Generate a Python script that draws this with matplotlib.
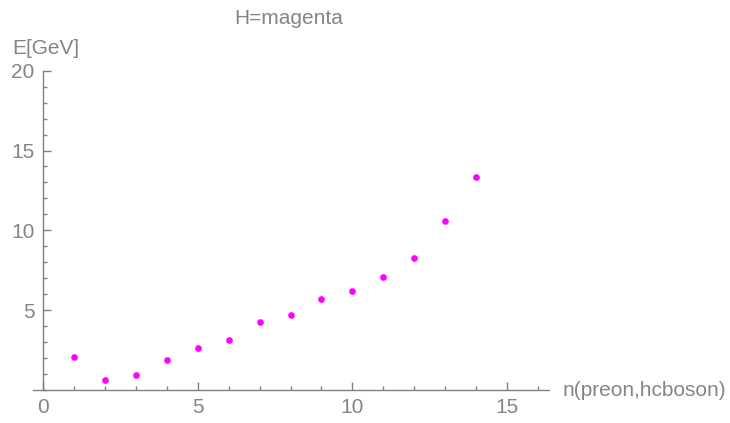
import matplotlib
matplotlib.use("Agg")
import matplotlib.pyplot as plt
from matplotlib.ticker import MultipleLocator

n_vals = [1, 2, 3, 4, 5, 6, 7, 8, 9, 10, 11, 12, 13, 14]
e_vals = [2.07, 0.65, 0.96, 1.86, 2.65, 3.15, 4.26, 4.68, 5.68, 6.18, 7.08, 8.29, 10.6, 13.34]
x_ticks = [0, 5, 10, 15]
y_ticks = [5, 10, 15, 20]

gray = "#808080"
txt = "#858585"
plt.rcParams["font.family"] = ["Liberation Sans", "DejaVu Sans"]

fig = plt.figure(figsize=(7.3, 4.23), dpi=100)
W, H = 730, 423
# axes box in pixels (x-axis line starts a little left of x=0)
x0, x1 = 33, 549
y0, y1 = 390, 70.7
ax = fig.add_axes([x0 / W, (H - y0) / H, (x1 - x0) / W, (y0 - y1) / H])

ax.plot(n_vals, e_vals, "o", color="#ff00ff", markersize=4.8, markeredgewidth=0)

ax.set_xlim(-0.32, 16.35)
ax.set_ylim(0, 20)
for s in ["top", "right"]:
    ax.spines[s].set_visible(False)
ax.spines["left"].set_position(("data", 0))
for s in ["left", "bottom"]:
    ax.spines[s].set_color(gray)
    ax.spines[s].set_linewidth(1.0)

ax.set_xticks(x_ticks)
ax.set_yticks(y_ticks)
ax.xaxis.set_minor_locator(MultipleLocator(1))
ax.yaxis.set_minor_locator(MultipleLocator(1))
ax.tick_params(which="major", direction="in", length=5.5, width=1.0, color=gray,
               labelcolor=txt, labelsize=15, pad=6)
ax.tick_params(which="minor", direction="in", length=3, width=1.0, color=gray)

fig.text(289 / W, 1 - 19 / H, "H=magenta", color=txt, fontsize=15, ha="center", va="center")
fig.text(46 / W, 1 - 48 / H, "E[GeV]", color=txt, fontsize=15, ha="center", va="center")
fig.text(563 / W, 1 - 390 / H, "n(preon,hcboson)", color=txt, fontsize=15, ha="left", va="center")

fig.savefig("out.png", dpi=100)
